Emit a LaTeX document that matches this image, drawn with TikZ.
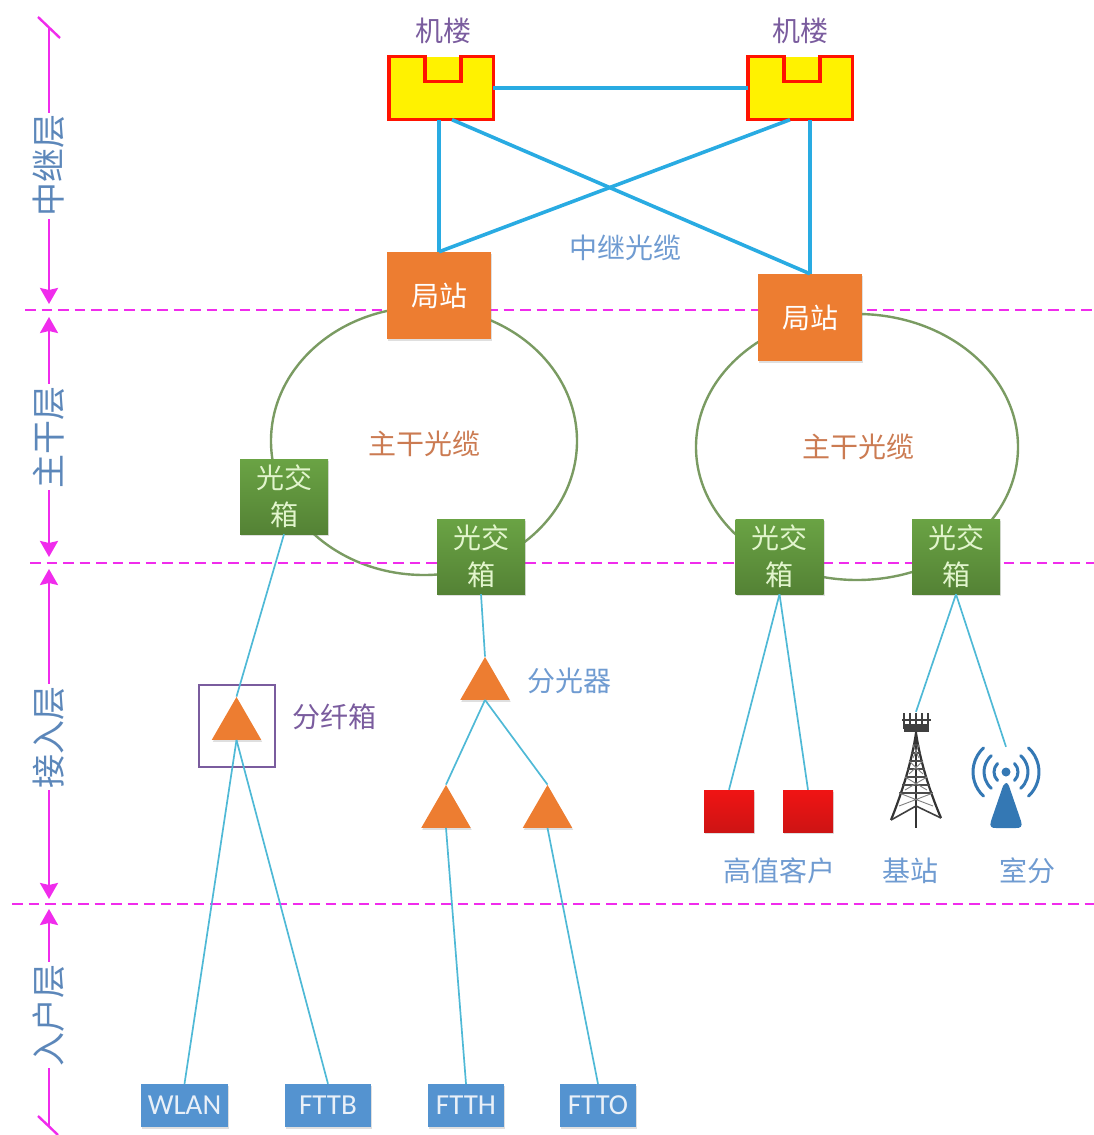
\documentclass[tikz,border=0pt]{standalone}
\usepackage{fontspec}
\setmainfont{Noto Sans CJK SC}
\newfontfamily\latinfont{Carlito}
\usetikzlibrary{arrows.meta, shapes.geometric, shadows}
\definecolor{fiber}{HTML}{29ABE2}
\definecolor{drop}{HTML}{4FB9D6}
\definecolor{level}{HTML}{F02CEC}
\definecolor{tagblue}{HTML}{6F9BD1}
\definecolor{tagpurple}{HTML}{7A5C9E}
\definecolor{tagorange}{HTML}{CB7B52}
\definecolor{antenna}{HTML}{3478B4}

\begin{document}
\begin{tikzpicture}[x=1pt, y=-1pt,
		txt/.style={inner sep=0pt, font=\fontsize{28}{35}\selectfont},
		tier/.style={txt, fill=white, text={rgb,255:red,92;green,135;blue,186}, rotate=90, inner ysep=3pt, inner xsep=2pt, font=\fontsize{34}{36}\selectfont},
		soft/.style={drop shadow={shadow xshift=1pt, shadow yshift=-2pt, opacity=.25}},
		bldg/.style={rectangle, fill=yellow, minimum width=104pt, minimum height=63pt, inner sep=0pt},
		site/.style={txt, rectangle, fill={rgb,255:red,237;green,125;blue,49}, text=white, soft, minimum width=104pt, minimum height=87pt},
		xbox/.style={txt, rectangle, top color={rgb,255:red,106;green,163;blue,68}, bottom color={rgb,255:red,84;green,130;blue,53}, text={rgb,255:red,226;green,245;blue,205}, soft, align=center, minimum width=88pt, minimum height=75pt, font=\fontsize{28}{37}\selectfont},
		tri/.style={regular polygon, regular polygon sides=3, fill={rgb,255:red,237;green,125;blue,49}, soft, minimum size=57pt, inner sep=0pt},
		red box/.style={rectangle, top color={rgb,255:red,240;green,20;blue,20}, bottom color={rgb,255:red,205;green,20;blue,20}, soft, minimum width=50pt, minimum height=42pt, inner sep=0pt},
		tail/.style={txt, rectangle, fill={rgb,255:red,84;green,147;blue,208}, text=white!85!tagblue, soft, minimum height=43pt, font=\latinfont\fontsize{29}{33}\selectfont},
		ring/.style={ellipse, draw={rgb,255:red,122;green,155;blue,98}, line width=2.4pt, inner sep=0pt},
		icon/.style={rectangle, inner sep=0pt},
		relay/.style={draw=fiber, line width=3.6pt},
		link/.style={draw=drop, line width=1.7pt},
		layer/.style={level, line width=2.4pt},
		sep/.style={level, line width=2.6pt, dash pattern=on 10.5pt off 6pt},
		>={Stealth[length=16pt, width=18pt, inset=2pt]}]
		\useasboundingbox (0, 0) rectangle (1094, 1135);

		\node[ring, minimum width=306pt, minimum height=268pt] (r0) at (424, 441) {};
		\node[ring, minimum width=322pt, minimum height=266pt] (r1) at (857, 447) {};

		\coordinate (d0) at (25, 310);
		\coordinate (d1) at (1094, 310);
		\coordinate (d2) at (30, 563);
		\coordinate (d3) at (1094, 563);
		\coordinate (d4) at (12, 904);
		\coordinate (d5) at (1094, 904);
		\draw[sep] (d0) -- (d1);
		\draw[sep] (d2) -- (d3);
		\draw[sep] (d4) -- (d5);

		\coordinate (a0) at (49, 27);
		\coordinate (a1) at (49, 304);
		\coordinate (a2) at (49, 317);
		\coordinate (a3) at (49, 557);
		\coordinate (a4) at (49, 569);
		\coordinate (a5) at (49, 899);
		\coordinate (a6) at (49, 909);
		\coordinate (a7) at (49, 1126);
		\coordinate (e0) at (38, 17);
		\coordinate (e1) at (60, 38);
		\coordinate (e2) at (38, 1116);
		\coordinate (e3) at (58, 1135);
		\draw[layer] (e0) -- (e1);
		\draw[layer] (e2) -- (e3);
		\draw[layer, ->] (a0) -- node[tier] {中继层} (a1);
		\draw[layer, <->] (a2) -- node[tier, pos=.5] {主干层} (a3);
		\draw[layer, <->] (a4) -- node[tier, pos=.51] {接入层} (a5);
		\draw[layer, <-] (a6) -- node[tier, pos=.49] {入户层} (a7);

		\node[bldg] (b0) at (441, 88) {};
		\node[bldg] (b1) at (800, 88) {};
		\foreach \b in {b0, b1}
			\draw[red!85!orange, line width=3.4pt, line join=miter] (\b.north west) -- ++(36, 0) -- ++(0, 25) -- ++(36, 0) -- ++(0, -25) -- (\b.north east) -- (\b.south east) -- (\b.south west) -- cycle;
		\node[txt, text=tagpurple] (b0t) at (443, 31) {机楼};
		\node[txt, text=tagpurple] (b1t) at (800, 31) {机楼};

		\node[site] (s0) at (439, 295.5) {局站};
		\node[site] (s1) at (810, 317.5) {局站};

		\node[xbox] (x0) at (284, 496.5) {光交\\箱};
		\node[xbox] (x1) at (481, 556.5) {光交\\箱};
		\node[xbox] (x2) at (779.5, 556.5) {光交\\箱};
		\node[xbox] (x3) at (956, 556.5) {光交\\箱};

		\node[rectangle, draw=tagpurple, line width=1.5pt, minimum width=76pt, minimum height=82pt, inner sep=0pt] (f0) at (237, 726) {};
		\node[tri] (t0) at (236.5, 725.5) {};
		\node[tri] (t1) at (485, 685.5) {};
		\node[tri] (t2) at (446, 813.5) {};
		\node[tri] (t3) at (547.5, 813.5) {};

		\node[red box] (c0) at (729, 811) {};
		\node[red box] (c1) at (808, 811) {};
		\node[icon, minimum width=56pt, minimum height=116pt] (w0) at (916, 770) {};
		\node[icon, minimum width=68pt, minimum height=81pt] (w1) at (1006, 787.5) {};

		\node[tail, minimum width=87pt] (u0) at (184.5, 1105.5) {WLAN};
		\node[tail, minimum width=86pt] (u1) at (328, 1105.5) {FTTB};
		\node[tail, minimum width=76pt] (u2) at (466, 1105.5) {FTTH};
		\node[tail, minimum width=76pt] (u3) at (598, 1105.5) {FTTO};

		\node[txt, text=tagblue] (l0) at (625, 248) {中继光缆};
		\node[txt, text=tagorange] (l1) at (424, 444) {主干光缆};
		\node[txt, text=tagorange] (l2) at (858, 447) {主干光缆};
		\node[txt, text=tagpurple] (l3) at (334, 717) {分纤箱};
		\node[txt, text=tagblue] (l4) at (569, 681) {分光器};
		\node[txt, text=tagblue] (l5) at (779, 871) {高值客户};
		\node[txt, text=tagblue] (l6) at (910, 871) {基站};
		\node[txt, text=tagblue] (l7) at (1027, 871) {室分};

		\draw[relay] (b0) -- (b1);
		\draw[relay] ([xshift=-2pt]b0.south) -- (s0.north);
		\draw[relay] ([xshift=11pt]b0.south) -- (s1.north);
		\draw[relay] ([xshift=-10pt]b1.south) -- (s0.north);
		\draw[relay] ([xshift=10pt]b1.south) -- (s1.north);

		\draw[link] (x0.south) -- (t0.north);
		\draw[link] (t0.south) -- (u0.north);
		\draw[link] (t0.south) -- (u1.north);
		\draw[link] (x1.south) -- (t1.north);
		\draw[link] (t1.south) -- (t2.north);
		\draw[link] (t1.south) -- (t3.north);
		\draw[link] (t2.south) -- (u2.north);
		\draw[link] (t3.south) -- (u3.north);
		\draw[link] (x2.south) -- (c0.north);
		\draw[link] (x2.south) -- (c1.north);
		\draw[link] (x3.south) -- (w0.north);
		\draw[link] (x3.south) -- (w1.north);

		\draw[black!80, line width=2.2pt] (891, 820) .. controls (903, 790) and (912, 760) .. (916, 733) .. controls (920, 760) and (929, 790) .. (941, 818);
		\draw[black!80, line width=2.4pt] (916, 733) -- (916, 828);
		\draw[black!75, line width=1.6pt] (891, 820) -- (916, 806) -- (941, 818);
		\foreach \i/\w in {745/3, 753/5, 761/7, 769/9, 777/11, 785/14, 793/17}
			\draw[black!70, line width=1.5pt] (916-\w, \i) -- (916+\w, \i);
		\foreach \i/\w in {745/3, 761/7, 777/11, 793/17}
			\draw[black!50, line width=.9pt] (916-\w, \i) -- (916+\w, \i+13) (916+\w, \i) -- (916-\w, \i+13);
		\fill[black!75] (904, 724) rectangle (929, 732);
		\foreach \i in {904, 910, 916, 922, 928}
			\draw[black!75, line width=2.2pt] (\i, 713) -- (\i, 729);
		\draw[black!75, line width=1.6pt] (902, 720) -- (931, 720);

		\fill[antenna] (1006, 772) circle (4.5);
		\foreach \r/\a in {12/45, 22/48, 33/47} {
			\draw[antenna, line width=3pt, line cap=round] (1006, 772) ++(\a:\r) arc (\a:-\a:\r);
			\draw[antenna, line width=3pt, line cap=round] (1006, 772) ++(180-\a:\r) arc (180-\a:180+\a:\r);
		}
		\fill[antenna] (1003, 786) .. controls (1006, 782) and (1007, 782) .. (1009, 786) -- (1021, 821) .. controls (1023, 827) and (1020, 828) .. (1016, 828) -- (996, 828) .. controls (992, 828) and (989, 827) .. (991, 821) -- cycle;
	\end{tikzpicture}
\end{document}
